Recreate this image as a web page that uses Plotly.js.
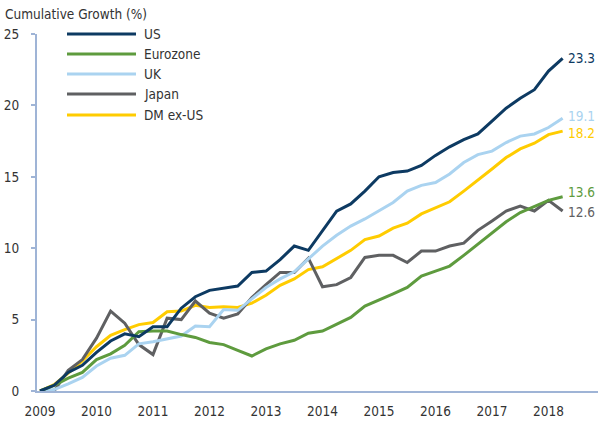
<!DOCTYPE html>
<html>
<head>
<meta charset="utf-8">
<script src="https://cdn.plot.ly/plotly-3.0.1.min.js"></script>
<style>html,body{margin:0;padding:0;background:#fff;}#chart{width:598px;height:422px;}</style>
</head>
<body>
<div id="chart"></div>
<script>
// Quarterly observations from 2009 Q1
const startYear = 2009;
const seriesNames = ["US", "Eurozone", "UK", "Japan", "DM ex-US"];
const us = [0, 0.4, 1.3, 1.8, 2.7, 3.5, 4.0, 3.8, 4.5, 4.5, 5.8, 6.6, 7.05, 7.2, 7.35, 8.3, 8.4, 9.2, 10.15, 9.85, 11.2, 12.6, 13.1, 14.0, 15.0, 15.3, 15.4, 15.8, 16.5, 17.1, 17.6, 18.0, 18.9, 19.8, 20.5, 21.1, 22.4, 23.3];
const eurozone = [0, 0.4, 0.9, 1.3, 2.2, 2.6, 3.2, 4.15, 4.2, 4.2, 3.95, 3.75, 3.4, 3.25, 2.85, 2.45, 2.95, 3.3, 3.55, 4.05, 4.2, 4.67, 5.15, 5.95, 6.35, 6.8, 7.25, 8.05, 8.4, 8.75, 9.5, 10.3, 11.1, 11.85, 12.5, 12.95, 13.35, 13.6];
const uk = [0, 0.1, 0.5, 0.95, 1.75, 2.3, 2.5, 3.3, 3.45, 3.65, 3.85, 4.55, 4.5, 5.7, 5.65, 6.45, 7.25, 7.85, 8.35, 9.25, 10.15, 10.9, 11.55, 12.05, 12.65, 13.2, 14.0, 14.4, 14.6, 15.2, 16.0, 16.55, 16.8, 17.4, 17.85, 18.0, 18.45, 19.1];
const japan = [0, 0, 1.45, 2.2, 3.7, 5.6, 4.75, 3.25, 2.55, 5.1, 5.0, 6.3, 5.45, 5.1, 5.4, 6.55, 7.45, 8.3, 8.3, 9.3, 7.3, 7.45, 7.95, 9.35, 9.5, 9.5, 9.0, 9.8, 9.8, 10.15, 10.35, 11.25, 11.9, 12.6, 12.95, 12.6, 13.35, 12.6];
const dmExUs = [0, 0.45, 1.25, 2.1, 3.1, 3.9, 4.3, 4.65, 4.8, 5.55, 5.6, 6.0, 5.85, 5.9, 5.85, 6.15, 6.7, 7.4, 7.85, 8.5, 8.7, 9.3, 9.85, 10.6, 10.85, 11.4, 11.75, 12.4, 12.8, 13.25, 14.0, 14.75, 15.55, 16.35, 16.95, 17.35, 17.95, 18.2];
const endLabels = ["23.3", "13.6", "19.1", "12.6", "18.2"];
const yearTicks = [2009, 2010, 2011, 2012, 2013, 2014, 2015, 2016, 2017, 2018];
const yTicks = [0, 5, 10, 15, 20, 25];

const colors = ["#0d3a62", "#5e9b3e", "#aad3f0", "#5f6062", "#ffcc00"];
const allSeries = [us, eurozone, uk, japan, dmExUs];
const xs = us.map((_, i) => startYear + i * 0.25);
const FONT = "'DejaVu Sans Condensed', 'Liberation Sans Narrow', sans-serif";
const FS = 13.5;

// draw order: back to front
const order = [4, 3, 2, 1, 0];
const traces = order.map(k => ({
  x: xs, y: allSeries[k], type: "scatter", mode: "lines", name: seriesNames[k],
  line: {color: colors[k], width: 3}, hoverinfo: "skip", showlegend: false
}));

// pixel helpers for plot area (l=37, width 561; top 34, height 357)
const L = 37, W = 561, T = 34, H = 357;
const px = v => (v - L) / W;
const py = v => (T + H - v) / H;

const shapes = [];
const annotations = [];
const legendY = [34, 54, 74, 94, 115];
seriesNames.forEach((n, k) => {
  shapes.push({type: "line", xref: "paper", yref: "paper", x0: px(67), x1: px(136), y0: py(legendY[k]), y1: py(legendY[k]), line: {color: colors[k], width: 3}});
  annotations.push({xref: "paper", yref: "paper", x: px(142), y: py(legendY[k]), xanchor: "left", yanchor: "middle", text: n, showarrow: false, font: {family: FONT, size: FS, color: "#333"}});
});
const labelShift = [0, 5, 2, -1, -2];
allSeries.forEach((s, k) => {
  annotations.push({x: xs[xs.length - 1], y: s[s.length - 1], xref: "x", yref: "y", xanchor: "left", yanchor: "middle", xshift: 4, yshift: labelShift[k], borderpad: 0, text: endLabels[k], showarrow: false, font: {family: FONT, size: FS, color: colors[k]}});
});
annotations.push({xref: "paper", yref: "paper", x: px(3), y: py(14), xanchor: "left", yanchor: "middle", text: "Cumulative Growth (%)", showarrow: false, font: {family: FONT, size: FS, color: "#333"}});

const layout = {
  width: 598, height: 422,
  margin: {l: L, r: 0, t: T, b: 422 - T - H, pad: 0},
  paper_bgcolor: "#fff", plot_bgcolor: "#fff",
  font: {family: FONT, size: FS, color: "#333"},
  showlegend: false,
  xaxis: {range: [2008.947, 2018.876], tickvals: yearTicks, ticktext: yearTicks.map(String), showgrid: false, zeroline: false,
          showline: true, linecolor: "#9fb4d6", linewidth: 2, ticks: "", ticklabelstandoff: 7, tickfont: {family: FONT, size: FS, color: "#333"}},
  yaxis: {range: [0, 25], tickvals: yTicks, showgrid: false, zeroline: false, showline: true, linecolor: "#9fb4d6", linewidth: 2,
          ticks: "outside", ticklen: 4, tickwidth: 2, tickcolor: "#9fb4d6", ticklabelstandoff: 9, tickfont: {family: FONT, size: FS, color: "#333"}},
  shapes: shapes, annotations: annotations, hovermode: false
};
Plotly.newPlot("chart", traces, layout, {displayModeBar: false, staticPlot: true});
</script>
</body>
</html>
